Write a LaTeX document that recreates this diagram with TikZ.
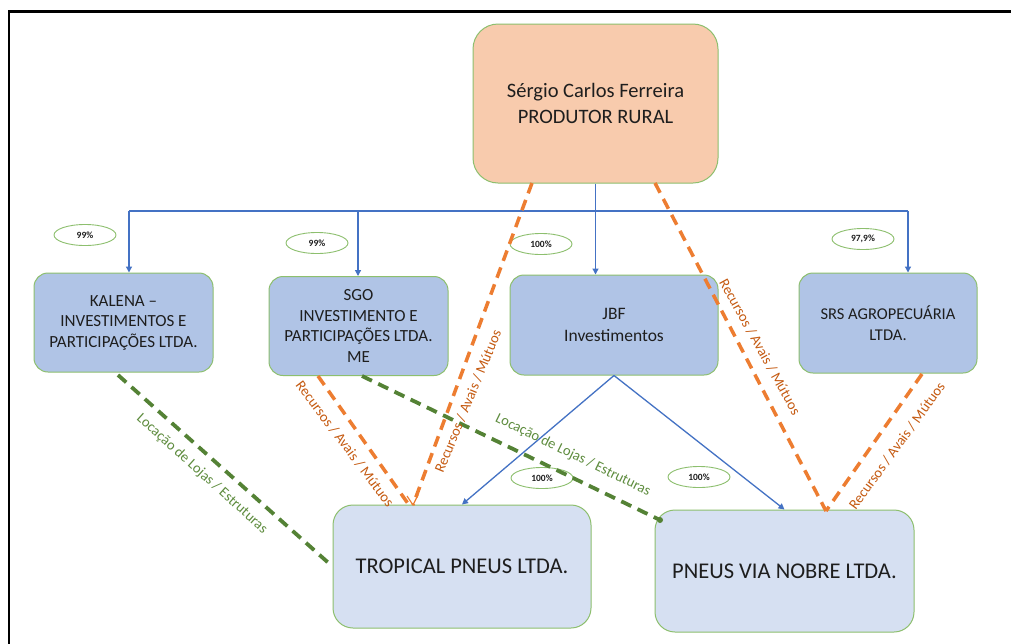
\documentclass[tikz,border=0pt]{standalone}
\usepackage{fontspec}
\setmainfont{Carlito}
\usetikzlibrary{shapes.geometric,arrows.meta,calc}
\definecolor{peach}{HTML}{F8CBAD}
\definecolor{boxblue}{HTML}{B0C4E6}
\definecolor{boxlight}{HTML}{D6E0F2}
\definecolor{boxedge}{HTML}{8DBF6E}
\definecolor{linkblue}{HTML}{4472C4}
\definecolor{dashorange}{HTML}{ED7D31}
\definecolor{dashgreen}{HTML}{548235}
\definecolor{txtorange}{HTML}{C55A11}
\definecolor{txtgreen}{HTML}{5E8C3E}
\definecolor{txtdark}{HTML}{1E1E1E}
\tikzset{
  ownerbox/.style={draw=boxedge, line width=1pt, fill=peach, rounded corners=25pt, align=center, text=txtdark, font=\fontsize{20.5}{26}\selectfont},
  compbox/.style={draw=boxedge, line width=1pt, fill=boxblue, rounded corners=14pt, align=center, text=txtdark, font=\fontsize{17}{20.5}\selectfont},
  bigbox/.style={draw=boxedge, line width=1pt, fill=boxlight, rounded corners=20pt, align=center, text=txtdark, font=\fontsize{22.5}{27}\selectfont},
  pct/.style={draw=boxedge, line width=0.9pt, ellipse, minimum width=62pt, minimum height=21pt, inner sep=0pt, font=\bfseries\fontsize{9.5}{11}\selectfont, text=txtdark},
  bluelink/.style={draw=linkblue, line width=1.3pt, -{Triangle[width=6pt,length=6pt]}},
  bluebus/.style={draw=linkblue, line width=1.3pt},
  orangelink/.style={draw=dashorange, line width=3.5pt, dash pattern=on 11pt off 7pt},
  greenlink/.style={draw=dashgreen, line width=3.8pt, dash pattern=on 11pt off 7pt},
  orangetxt/.style={text=txtorange, font=\fontsize{14.5}{17}\selectfont, inner sep=0pt},
  greentxt/.style={text=txtgreen, font=\fontsize{14.5}{17}\selectfont, inner sep=0pt},
}
\begin{document}
\begin{tikzpicture}[x=1pt,y=-1pt]
\useasboundingbox (0,0) rectangle (1011,643);
\fill[white] (0,0) rectangle (1011,643);
% frame
\draw[line width=2.6pt] (9,645) -- (9,11.5) -- (1013,11.5);

% boxes
\node[ownerbox, minimum width=245pt, minimum height=159pt] (top) at (595.5,103.5) {Sérgio Carlos Ferreira\\PRODUTOR RURAL};
\node[compbox, minimum width=179pt, minimum height=99pt] (kal) at (123.5,322.5) {KALENA –\\INVESTIMENTOS E\\PARTICIPAÇÕES LTDA.};
\node[compbox, minimum width=179pt, minimum height=99pt] (sgo) at (358.5,326) {SGO\\INVESTIMENTO E\\PARTICIPAÇÕES LTDA.\\ME};
\node[compbox, minimum width=208pt, minimum height=100pt, font=\fontsize{17.5}{21.5}\selectfont] (jbf) at (614,325) {JBF\\Investimentos};
\node[compbox, minimum width=178pt, minimum height=100pt, font=\fontsize{16.5}{21.5}\selectfont] (srs) at (888,323) {SRS AGROPECUÁRIA\\LTDA.};
\node[bigbox, minimum width=258pt, minimum height=123pt] (trop) at (462,566.5) {TROPICAL PNEUS LTDA.};
\node[bigbox, minimum width=259pt, minimum height=122pt] (pvn) at (784.5,571) {PNEUS VIA NOBRE LTDA.};

% percentages
\node[pct] (p1) at (85,235) {99\%};
\node[pct] (p2) at (317,243) {99\%};
\node[pct] (p3) at (541,244) {100\%};
\node[pct] (p4) at (863,239) {97,9\%};
\node[pct] (p5) at (542,478) {100\%};
\node[pct] (p6) at (699,477) {100\%};

% bus coordinates
\coordinate (b1) at (129,211);
\coordinate (b2) at (358,211);
\coordinate (b4) at (908,211);
\draw[bluebus] (b1) -- (b4);
\draw[bluelink] (b1) -- (b1 |- kal.north);
\draw[bluelink] (b2) -- (b2 |- sgo.north);
\draw[bluelink] (b4) -- (b4 |- srs.north);
\draw[bluelink] (top.south) -- (top.south |- jbf.north);
\draw[bluelink] (jbf.south) -- (trop.north);
\draw[bluelink] (jbf.south) -- (pvn.north);

% dashed relation lines
\coordinate (o1s) at (532,183);
\coordinate (o1e) at (413,505);
\coordinate (o2s) at (655,183);
\coordinate (o2e) at (826,511);
\coordinate (o3s) at (922,374);
\coordinate (o4s) at (318,376);
\coordinate (o4e) at (409,505);
\coordinate (g1s) at (118,375);
\coordinate (g2s) at (362,376);
\coordinate (g2e) at (660,520);

\draw[orangelink] (o4s) -- (o4e);
\draw[orangelink] (o1s) -- (o1e);
\draw[dashorange, line width=1.2pt] ($(o1e)+(-6,-9)$) -- (o1e) -- ($(o1e)+(5,-10)$);
\draw[orangelink] (o2s) -- (o2e);
\draw[orangelink] (o3s) -- (o2e);
\draw[greenlink] (g1s) -- (trop.west);
\draw[greenlink] (g2s) -- (g2e);
\fill[dashgreen] (g2e) circle (3pt);

% labels
\node[greentxt, rotate=-42] (lg1) at (202,474) {Locação de Lojas / Estruturas};
\node[greentxt, rotate=-26] (lg2) at (573,455) {Locação de Lojas / Estruturas};
\node[orangetxt, rotate=-53] (lo4) at (345,444) {Recursos / Avais / Mútuos};
\node[orangetxt, rotate=67.5] (lo1) at (468,401) {Recursos / Avais / Mútuos};
\node[orangetxt, rotate=-61] (lo2) at (760,347) {Recursos / Avais / Mútuos};
\node[orangetxt, rotate=54] (lo3) at (897,446) {Recursos / Avais / Mútuos};
\end{tikzpicture}
\end{document}
